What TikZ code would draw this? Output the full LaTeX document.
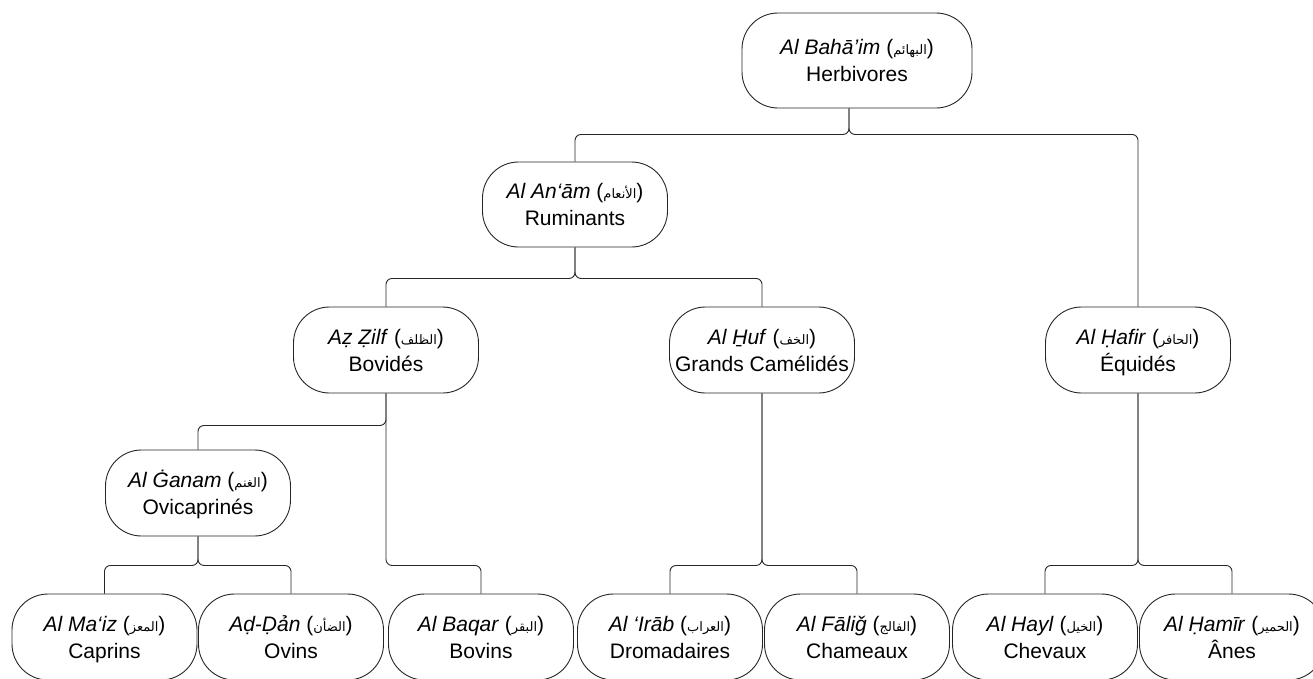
\documentclass[tikz,border=0pt]{standalone}
\usepackage{fontspec}
\setmainfont{Liberation Sans}
\newfontfamily\arabicfont[Script=Arabic]{DejaVu Sans}
\TeXXeTstate=1
\newcommand{\ar}[1]{({\arabicfont\fontsize{13}{15}\selectfont\beginR #1\endR})}
\tikzset{
  taxon/.style={draw=black!85, line width=0.9pt, rounded corners=36pt,
    minimum width=185pt, minimum height=86pt, inner sep=0pt,
    text height=46pt, text depth=4pt,
    align=center, font=\fontsize{21}{27}\selectfont},
  branch/.style={draw=black!85, line width=0.9pt, rounded corners=6pt}
}
\begin{document}
\begin{tikzpicture}[x=1pt,y=-1pt]
      \useasboundingbox (0,0) rectangle (1313,678);
      \draw
        (857,60.5) node[taxon, minimum width=230pt, minimum height=95pt] (herb){\textit{Al Bahā’im} \ar{البهائم}\\Herbivores}
        (575,204.5) node[taxon, minimum height=85pt] (rum){\textit{Al An‘ām} \ar{الأنعام}\\Ruminants}
        (386,350) node[taxon] (bovid){\textit{Aẓ Ẓilf} \ar{الظلف}\\Bovidés}
        (762,350) node[taxon] (camel){\textit{Al H̱uf} \ar{الخف}\\Grands Camélidés}
        (1138,350) node[taxon] (equid){\textit{Al Ḥafir} \ar{الحافر}\\Équidés}
        (198,493) node[taxon] (ovic){\textit{Al Ġanam} \ar{الغنم}\\Ovicaprinés}
        (104.5,637) node[taxon] (capr){\textit{Al Ma‘iz} \ar{المعز}\\Caprins}
        (291,637) node[taxon] (ovin){\textit{Aḍ-Ḍản} \ar{الضأن}\\Ovins}
        (481,637) node[taxon] (bovin){\textit{Al Baqar} \ar{البقر}\\Bovins}
        (670,637) node[taxon] (drom){\textit{Al ‘Irāb} \ar{العراب}\\Dromadaires}
        (857,637) node[taxon] (cham){\textit{Al Fāliǧ} \ar{الفالج}\\Chameaux}
        (1045,637) node[taxon] (chev){\textit{Al Hayl} \ar{الخيل}\\Chevaux}
        (1232,637) node[taxon] (ane){\textit{Al Ḥamīr} \ar{الحمير}\\Ânes};
      \begin{scope}[branch]
        \draw ([xshift=-8pt]herb.south) -- ++(0,26) -| (rum.north);
        \draw ([xshift=-8pt]herb.south) -- ++(0,26) -| (equid.north);
        \draw (rum.south) -- ++(0,31) -| (bovid.north);
        \draw (rum.south) -- ++(0,31) -| (camel.north);
        \draw (bovid.south) -- ++(0,32) -| (ovic.north);
        \draw (bovid.south) -- ++(0,172) -| (bovin.north);
        \draw (camel.south) -- ++(0,172) -| (drom.north);
        \draw (camel.south) -- ++(0,172) -| (cham.north);
        \draw (equid.south) -- ++(0,172) -| (chev.north);
        \draw (equid.south) -- ++(0,172) -| (ane.north);
        \draw (ovic.south) -- ++(0,29) -| (capr.north);
        \draw (ovic.south) -- ++(0,29) -| (ovin.north);
      \end{scope}
    \end{tikzpicture}
\end{document}
